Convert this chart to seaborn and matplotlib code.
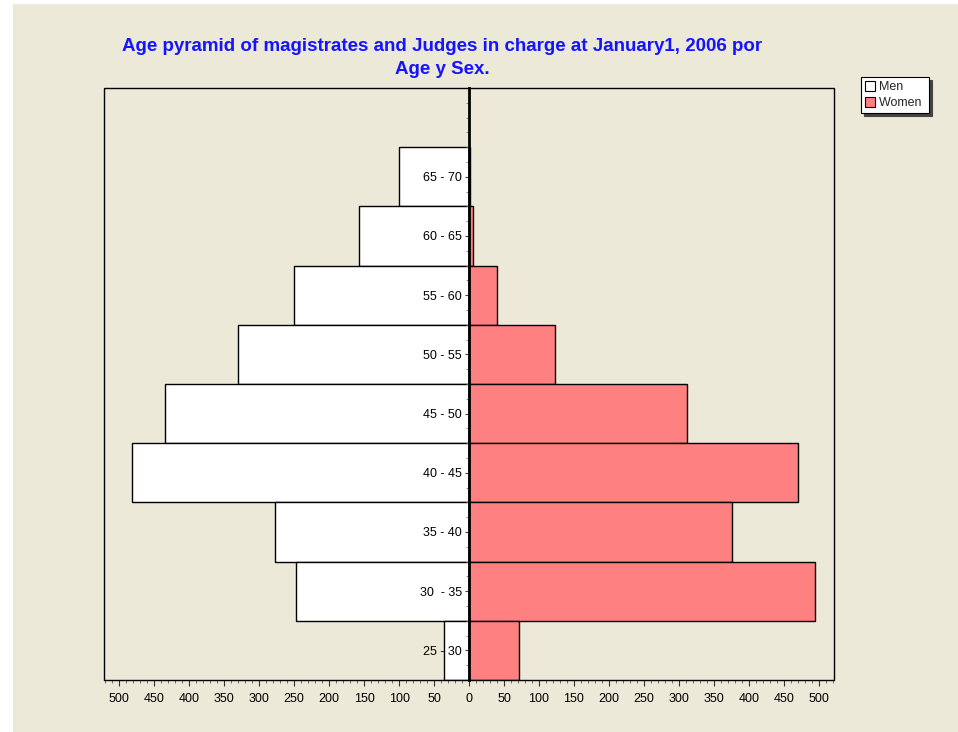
import matplotlib
matplotlib.use("Agg")
import matplotlib.pyplot as plt
from matplotlib.patches import Rectangle, Patch
from matplotlib.ticker import MultipleLocator, FuncFormatter
import seaborn as sns
import pandas as pd

# ---- data ----
age_groups = ["65 - 70", "60 - 65", "55 - 60", "50 - 55", "45 - 50",
              "40 - 45", "35 - 40", "30  - 35", "25 - 30"]
men = [100, 158, 250, 330, 435, 482, 278, 247, 36]
women = [2, 6, 40, 123, 312, 470, 376, 495, 72]
series = ["Men", "Women"]
colors = {"Men": "#FFFFFF", "Women": "#FF8080"}
title = "Age pyramid of magistrates and Judges in charge at January1, 2006 por\nAge y Sex."

df = pd.DataFrame({
    "age": age_groups * 2,
    "value": [-v for v in men] + women,
    "sex": ["Men"] * len(men) + ["Women"] * len(women),
})

sns.set_theme(style="white")
plt.rcParams["font.family"] = ["Liberation Sans", "DejaVu Sans"]

BG = "#ECE9D8"
fig = plt.figure(figsize=(9.58, 7.32), dpi=100, facecolor="white")
fig.patches.append(Rectangle((13 / 958, 0), 1, 1 - 4 / 732, transform=fig.transFigure,
                             facecolor=BG, edgecolor="none", zorder=-10))

W, H = 958, 732
ax = fig.add_axes([104 / W, 1 - 680 / H, (834 - 104) / W, (680 - 88) / H])
ax.set_facecolor(BG)

sns.barplot(data=df, y="age", x="value", hue="sex", order=age_groups,
            hue_order=series, palette=colors, dodge=False, width=1.0,
            saturation=1, edgecolor="black", linewidth=1.0, orient="h",
            ax=ax, legend=False)

ax.set_axisbelow(False)
ax.set_xlim(-522, 522)
ax.set_ylim(len(age_groups) - 0.5, -1.5)
ax.set_xlabel("")
ax.set_ylabel("")

# center axis line with category labels
for s in ["top", "right", "bottom"]:
    ax.spines[s].set_visible(False)
ax.spines["left"].set_position(("data", 0))
ax.spines["left"].set_linewidth(2.0)
ax.spines["left"].set_color("black")
ax.spines["left"].set_zorder(5)
ax.add_patch(Rectangle((0, 0), 1, 1, transform=ax.transAxes, fill=False,
                       edgecolor="black", linewidth=1.0, clip_on=False, zorder=6))

ax.yaxis.set_minor_locator(MultipleLocator(0.25))
ax.tick_params(axis="y", which="major", direction="out", length=3, width=0.8,
               color="#444444", labelsize=9, labelcolor="black", pad=2, left=True)
ax.tick_params(axis="y", which="minor", direction="out", length=2, width=0.6,
               color="#777777", left=True)

ax.xaxis.set_major_locator(MultipleLocator(50))
ax.xaxis.set_minor_locator(MultipleLocator(10))
ax.xaxis.set_major_formatter(FuncFormatter(lambda v, p: f"{abs(int(round(v)))}"))
ax.tick_params(axis="x", which="major", direction="out", length=4, width=0.8,
               color="#333333", labelsize=9, labelcolor="black", pad=5, bottom=True)
ax.tick_params(axis="x", which="minor", direction="out", length=2, width=0.6,
               color="#555555", bottom=True)

fig.text(442 / W, 1 - 38 / H, title, ha="center", va="top", color="#1414FF",
         fontsize=13.5, fontweight="bold", linespacing=1.45)

handles = [Patch(facecolor=colors[s], edgecolor="black", linewidth=0.8, label=s) for s in series]
leg = fig.legend(handles=handles, loc="upper left",
                 bbox_to_anchor=(861 / W, 1 - 77 / H), bbox_transform=fig.transFigure,
                 fontsize=9, frameon=True, fancybox=False,
                 shadow={"color": "#444444", "alpha": 1},
                 edgecolor="black", framealpha=1, borderpad=0.3, labelspacing=0.3,
                 handlelength=0.85, handleheight=0.85, handletextpad=0.3,
                 borderaxespad=0)
leg.get_frame().set_linewidth(0.8)
leg.get_frame().set_facecolor("white")
for t in leg.get_texts():
    t.set_text(t.get_text() + " ")

fig.savefig("out.png", dpi=100, facecolor="white")
